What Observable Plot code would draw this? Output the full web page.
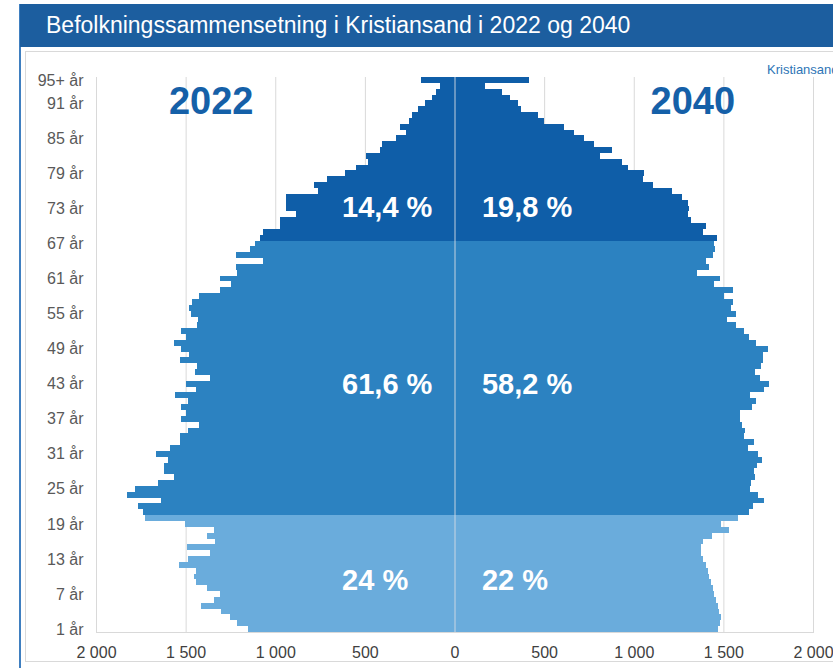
<!DOCTYPE html>
<html>
<head>
<meta charset="utf-8">
<script src="https://cdn.jsdelivr.net/npm/d3@7"></script>
<script src="https://cdn.jsdelivr.net/npm/@observablehq/plot@0.6"></script>
<style>
  html, body { margin: 0; padding: 0; background: #fff; overflow: hidden; width: 833px; height: 668px; }
  body { position: relative; font-family: "Liberation Sans", Arial, sans-serif; }
  #titlebar { position: absolute; left: 20px; top: 4px; width: 813px; height: 43px; background: #1c5e9f;
    color: #fff; font-size: 23px; line-height: 43px; padding-left: 26px; box-sizing: border-box; white-space: nowrap; }
  #leftline { position: absolute; left: 19px; top: 4px; width: 2px; height: 664px; background: #3f7fc0; }
  #panel { position: absolute; left: 25px; top: 51px; width: 830px; height: 611px; border: 1px solid #d9d9d9; box-sizing: border-box; }
  #chart { position: absolute; left: 0; top: 52px; }
  #source { position: absolute; left: 767px; top: 62px; font-size: 13px; color: #2e75b6; white-space: nowrap; }
</style>
</head>
<body>
<div id="leftline"></div>
<div id="titlebar">Befolkningssammensetning i Kristiansand i 2022 og 2040</div>
<div id="panel"></div>
<div id="chart"></div>
<div id="source">Kristiansand</div>
<script>
// Age categories 1 .. 95 (95 = "95+"), bottom to top
const ages = d3.range(1, 96);

// Population by age, 2022 (left side), ages 1..95+
const pop2022 = [
  1152, 1214, 1255, 1305, 1413, 1342, 1310, 1379, 1441, 1454,
  1444, 1537, 1487, 1366, 1491, 1335, 1381, 1342, 1502, 1725,
  1738, 1766, 1639, 1825, 1784, 1654, 1567, 1621, 1621, 1599,
  1664, 1589, 1533, 1533, 1487, 1428, 1524, 1500, 1524, 1487,
  1558, 1440, 1500, 1362, 1450, 1437, 1533, 1483, 1528, 1565,
  1496, 1524, 1435, 1431, 1468, 1481, 1463, 1428, 1310, 1249,
  1307, 1214, 1217, 1069, 1217, 1143, 1115, 1087, 1069, 976,
  976, 883, 939, 942, 939, 762, 784, 710, 613, 548,
  483, 493, 413, 405, 329, 270, 303, 255, 238, 204,
  167, 125, 102, 80, 186
];

// Population by age, 2040 (right side), ages 1..95+
const pop2040 = [
  1468, 1483, 1487, 1478, 1468, 1459, 1450, 1441, 1431, 1422,
  1413, 1403, 1385, 1375, 1375, 1385, 1437, 1530, 1487, 1580,
  1641, 1664, 1725, 1695, 1649, 1654, 1678, 1673, 1686, 1716,
  1691, 1636, 1673, 1617, 1621, 1605, 1593, 1593, 1658, 1682,
  1649, 1729, 1756, 1706, 1678, 1710, 1723, 1719, 1747, 1682,
  1645, 1617, 1571, 1519, 1571, 1543, 1552, 1506, 1552, 1450,
  1481, 1353, 1418, 1403, 1440, 1455, 1447, 1463, 1388, 1403,
  1320, 1301, 1310, 1301, 1268, 1214, 1106, 1050, 1056, 967,
  935, 812, 877, 777, 725, 669, 613, 498, 468, 372,
  357, 310, 266, 171, 414
];

// Age groups (first category of each group)
const groupNames = ["young", "working", "old"];
const groupStart = [1, 21, 68];
const groupColors = ["#6aacdc", "#2c82c1", "#0f5ea8"];

// Share labels per group
const share2022 = ["24 %", "61,6 %", "14,4 %"];
const share2040 = ["22 %", "58,2 %", "19,8 %"];
const shareAt = [10, 44, 74];   // age category the label sits on

// Year labels
const years = ["2022", "2040"];

// Axis ticks
const yTicks = [1, 7, 13, 19, 25, 31, 37, 43, 49, 55, 61, 67, 73, 79, 85, 91, 95];
const yTickLabels = ["1 år", "7 år", "13 år", "19 år", "25 år", "31 år", "37 år", "43 år", "49 år",
  "55 år", "61 år", "67 år", "73 år", "79 år", "85 år", "91 år", "95+ år"];
const xTicks = [-2000, -1500, -1000, -500, 0, 500, 1000, 1500, 2000];
const xTickLabels = ["2 000", "1 500", "1 000", "500", "0", "500", "1 000", "1 500", "2 000"];

const groupOf = a => a >= groupStart[2] ? 2 : a >= groupStart[1] ? 1 : 0;
const rows = ages.map((a, i) => ({age: a, g: groupOf(a), v22: pop2022[i], v40: pop2040[i]}));

const barMarks = [];
groupNames.forEach((name, g) => {
  const sub = rows.filter(r => r.g === g);
  barMarks.push(Plot.barX(sub, {x1: 0, x2: d => -d.v22, y: "age", fill: groupColors[g], shapeRendering: "crispEdges"}));
  barMarks.push(Plot.barX(sub, {x1: 0, x2: d => d.v40, y: "age", fill: groupColors[g], shapeRendering: "crispEdges"}));
});

const labelDy = [4, 6, 5];
const shareRows = shareAt.map((a, g) => ({age: a, l22: share2022[g], l40: share2040[g], g}));

const chart = Plot.plot({
  width: 833,
  height: 611,
  marginLeft: 96,
  marginRight: 20,
  marginTop: 25,
  marginBottom: 31,
  style: {fontFamily: "'Liberation Sans', Arial, sans-serif", background: "transparent", overflow: "visible"},
  x: {domain: [-2000, 2000]},
  y: {type: "band", domain: ages.slice().reverse(), padding: 0},
  marks: [
    Plot.gridX(xTicks.filter(d => d !== 0), {stroke: "#d9d9d9", strokeOpacity: 1}),
    ...barMarks,
    Plot.ruleX([0], {stroke: "#d4dbe3", strokeOpacity: 0.9, strokeWidth: 1}),
    Plot.frame({anchor: "bottom", stroke: "#d9d9d9"}),
    ...shareRows.map(r => Plot.text([r], {x: -630, y: "age", text: "l22", dy: labelDy[r.g], textAnchor: "start", fill: "white", fontSize: 29, fontWeight: "bold"})),
    ...shareRows.map(r => Plot.text([r], {x: 150, y: "age", text: "l40", dy: labelDy[r.g], textAnchor: "start", fill: "white", fontSize: 29, fontWeight: "bold"})),
    Plot.text(years, {x: (d, i) => i === 0 ? -1360 : 1327, y: () => 92, text: d => d, fill: "#1560a8", fontSize: 38, fontWeight: "bold", dy: 4}),
    Plot.axisX({ticks: xTicks, tickFormat: d => xTickLabels[xTicks.indexOf(d)], tickSize: 0, tickPadding: 14, fontSize: 16, fill: "#404040", label: null}),
    Plot.axisY({ticks: yTicks, tickFormat: d => yTickLabels[yTicks.indexOf(d)], tickSize: 0, tickPadding: 13, fontSize: 16, fill: "#595959", label: null})
  ]
});
document.getElementById("chart").appendChild(chart);
</script>
</body>
</html>
